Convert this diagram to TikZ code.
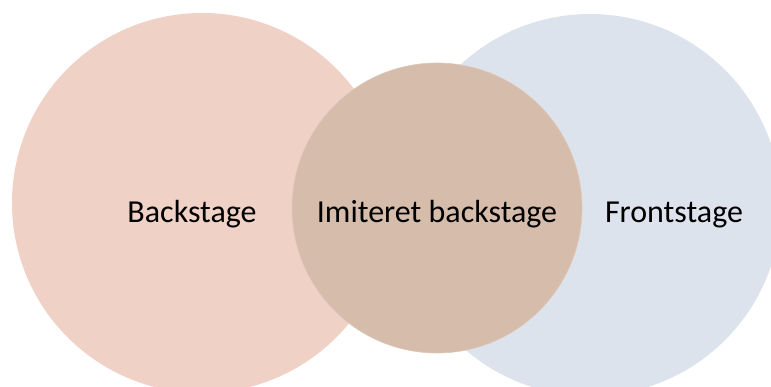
\documentclass[tikz,border=0pt]{standalone}
\usepackage{fontspec}
\setmainfont{Carlito}
\definecolor{pinkc}{HTML}{F0D1C6}
\definecolor{tanc}{HTML}{D6BCAA}
\definecolor{bluec}{HTML}{DDE3EC}
\begin{document}
\begin{tikzpicture}[x=1pt,y=-1pt,
  lbl/.style={anchor=base,font=\fontsize{32}{37}\selectfont,text=black,inner sep=0pt}]
\useasboundingbox (0,0) rectangle (771,387);
\clip (0,0) rectangle (771,387);
\fill[pinkc] (202,203) circle (190);
\fill[bluec] (590,205) circle (191);
\fill[tanc] (437,208) circle (145);
\draw[tanc!80!white,line width=0.6pt] (437,208) circle (145);
\node[lbl] (back) at (192,223) {Backstage};
\node[lbl] (imit) at (437,223) {Imiteret backstage};
\node[lbl] (front) at (674,223) {Frontstage};
\end{tikzpicture}
\end{document}
